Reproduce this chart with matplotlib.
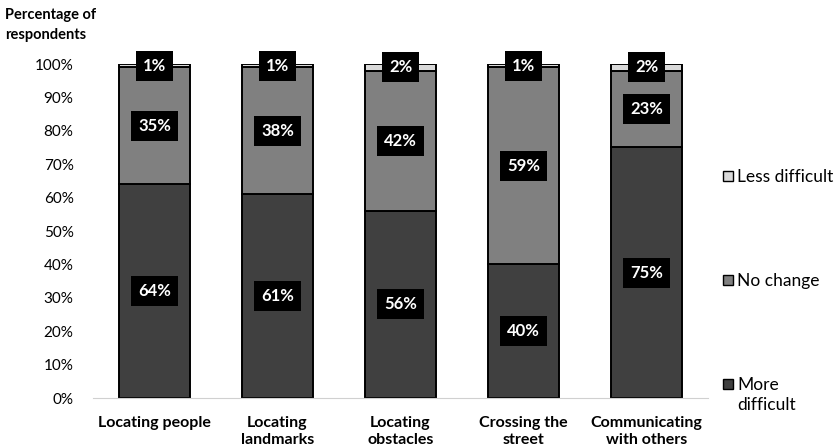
import numpy as np
import matplotlib.pyplot as plt

plt.rcParams['font.family'] = ['Lato', 'DejaVu Sans']

tasks = ['Locating people', 'Locating\nlandmarks', 'Locating\nobstacles',
         'Crossing the\nstreet', 'Communicating\nwith others']
more_difficult = [64, 61, 56, 40, 75]
no_change = [35, 38, 42, 59, 23]
less_difficult = [1, 1, 2, 1, 2]

series = [
    ('More\ndifficult', more_difficult, '#404040'),
    ('No change', no_change, '#808080'),
    ('Less difficult', less_difficult, '#d9d9d9'),
]

fig = plt.figure(figsize=(8.35, 4.48), dpi=100)
ax = fig.add_axes([93 / 835, (448 - 398) / 448, 615 / 835, 334 / 448])

x = np.arange(len(tasks))
bottom = np.zeros(len(tasks))
for name, vals, color in series:
    vals = np.array(vals, dtype=float)
    ax.bar(x, vals, 0.58, bottom=bottom, color=color, edgecolor='black',
           linewidth=1.4, zorder=2)
    for xi, b, v in zip(x, bottom, vals):
        ax.text(xi, b + v / 2, f'{int(v)}%', ha='center', va='center',
                color='white', fontsize=12, fontweight='bold', zorder=4,
                bbox=dict(boxstyle='square,pad=0.42', fc='black', ec='none'))
    bottom += vals

ax.set_xlim(-0.5, len(tasks) - 0.5)
ax.set_ylim(0, 100)
ax.set_yticks(np.arange(0, 101, 10))
ax.set_yticklabels([f'{t}%' for t in range(0, 101, 10)], fontsize=11)
ax.set_xticks(x)
ax.set_xticklabels(tasks, fontsize=11.5, fontweight='bold', va='top',
                   linespacing=1.25)
ax.tick_params(length=0, axis='both')
ax.tick_params(axis='x', pad=13)
ax.tick_params(axis='y', pad=14)
for s in ['top', 'right', 'left']:
    ax.spines[s].set_visible(False)
ax.spines['bottom'].set_color('#d0d0d0')

fig.text(5 / 835, 1 - 25 / 448, 'Percentage of\nrespondents', ha='left',
         va='center', fontsize=10.5, fontweight='bold', linespacing=1.6)

# legend entries stacked down the right side
legend_y = {'Less difficult': 176, 'No change': 280, 'More\ndifficult': 384}
for name, vals, color in series:
    y = 1 - legend_y[name] / 448
    fig.patches.append(plt.Rectangle((723 / 835, y - 5 / 448), 10 / 835, 10 / 448,
                                     transform=fig.transFigure, fc=color,
                                     ec='black', lw=1.0))
    fig.text(737 / 835, y + 7 / 448, name, ha='left', va='top', fontsize=12.5,
             linespacing=1.3)

fig.savefig('out.png', dpi=100)
